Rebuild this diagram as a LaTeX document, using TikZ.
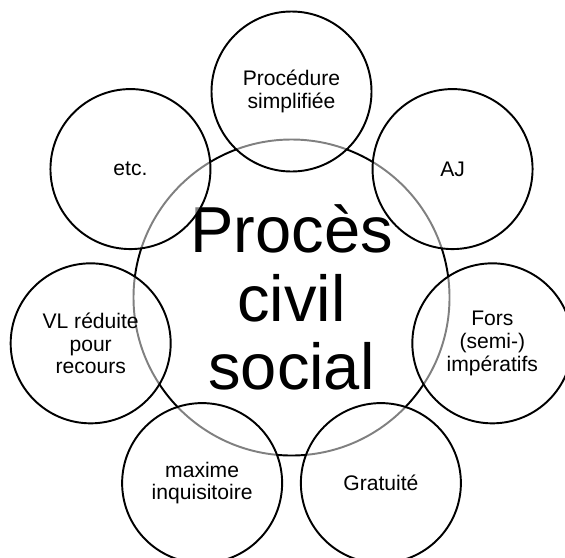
\documentclass[tikz,border=0pt]{standalone}
\usepackage{fontspec}
\setmainfont{Liberation Sans}
\usetikzlibrary{positioning, calc}
\definecolor{InkBlack}{HTML}{000000}
\newcommand{\PetalFont}{\fontsize{12pt}{13pt}\selectfont}
\newcommand{\CoreFont}{\fontsize{37pt}{39pt}\selectfont}

\begin{document}
\begin{tikzpicture}[
  core/.style={circle, draw=InkBlack, line width=1.1pt, fill=white,
    minimum size=6.32cm, inner sep=0pt, align=center, font=\CoreFont},
  petal/.style={circle, draw=InkBlack, line width=1.1pt, fill=white,
    fill opacity=0.5, text opacity=1, minimum size=3.2cm, inner sep=0pt,
    align=center, font=\PetalFont}
]
  \useasboundingbox (0,0) rectangle (11.3,-11.14);
  % centre circle
  \node[core] (core) at (5.83,-5.95) {Procès\\civil\\social};
  % seven petals around it
  \foreach \ang/\id/\txt in {
      90/simpl/{Procédure\\simplifiée},
      38.571/aj/{AJ},
      -12.857/fors/{Fors\\(semi-)\\impératifs},
      -64.286/grat/{Gratuité},
      -115.714/maxime/{maxime\\inquisitoire},
      -167.143/vl/{VL réduite\\pour\\recours},
      141.429/etc/{etc.}}
    \node[petal] (\id) at ($(core.center)+(\ang:4.12)$) {\txt};
\end{tikzpicture}
\end{document}
